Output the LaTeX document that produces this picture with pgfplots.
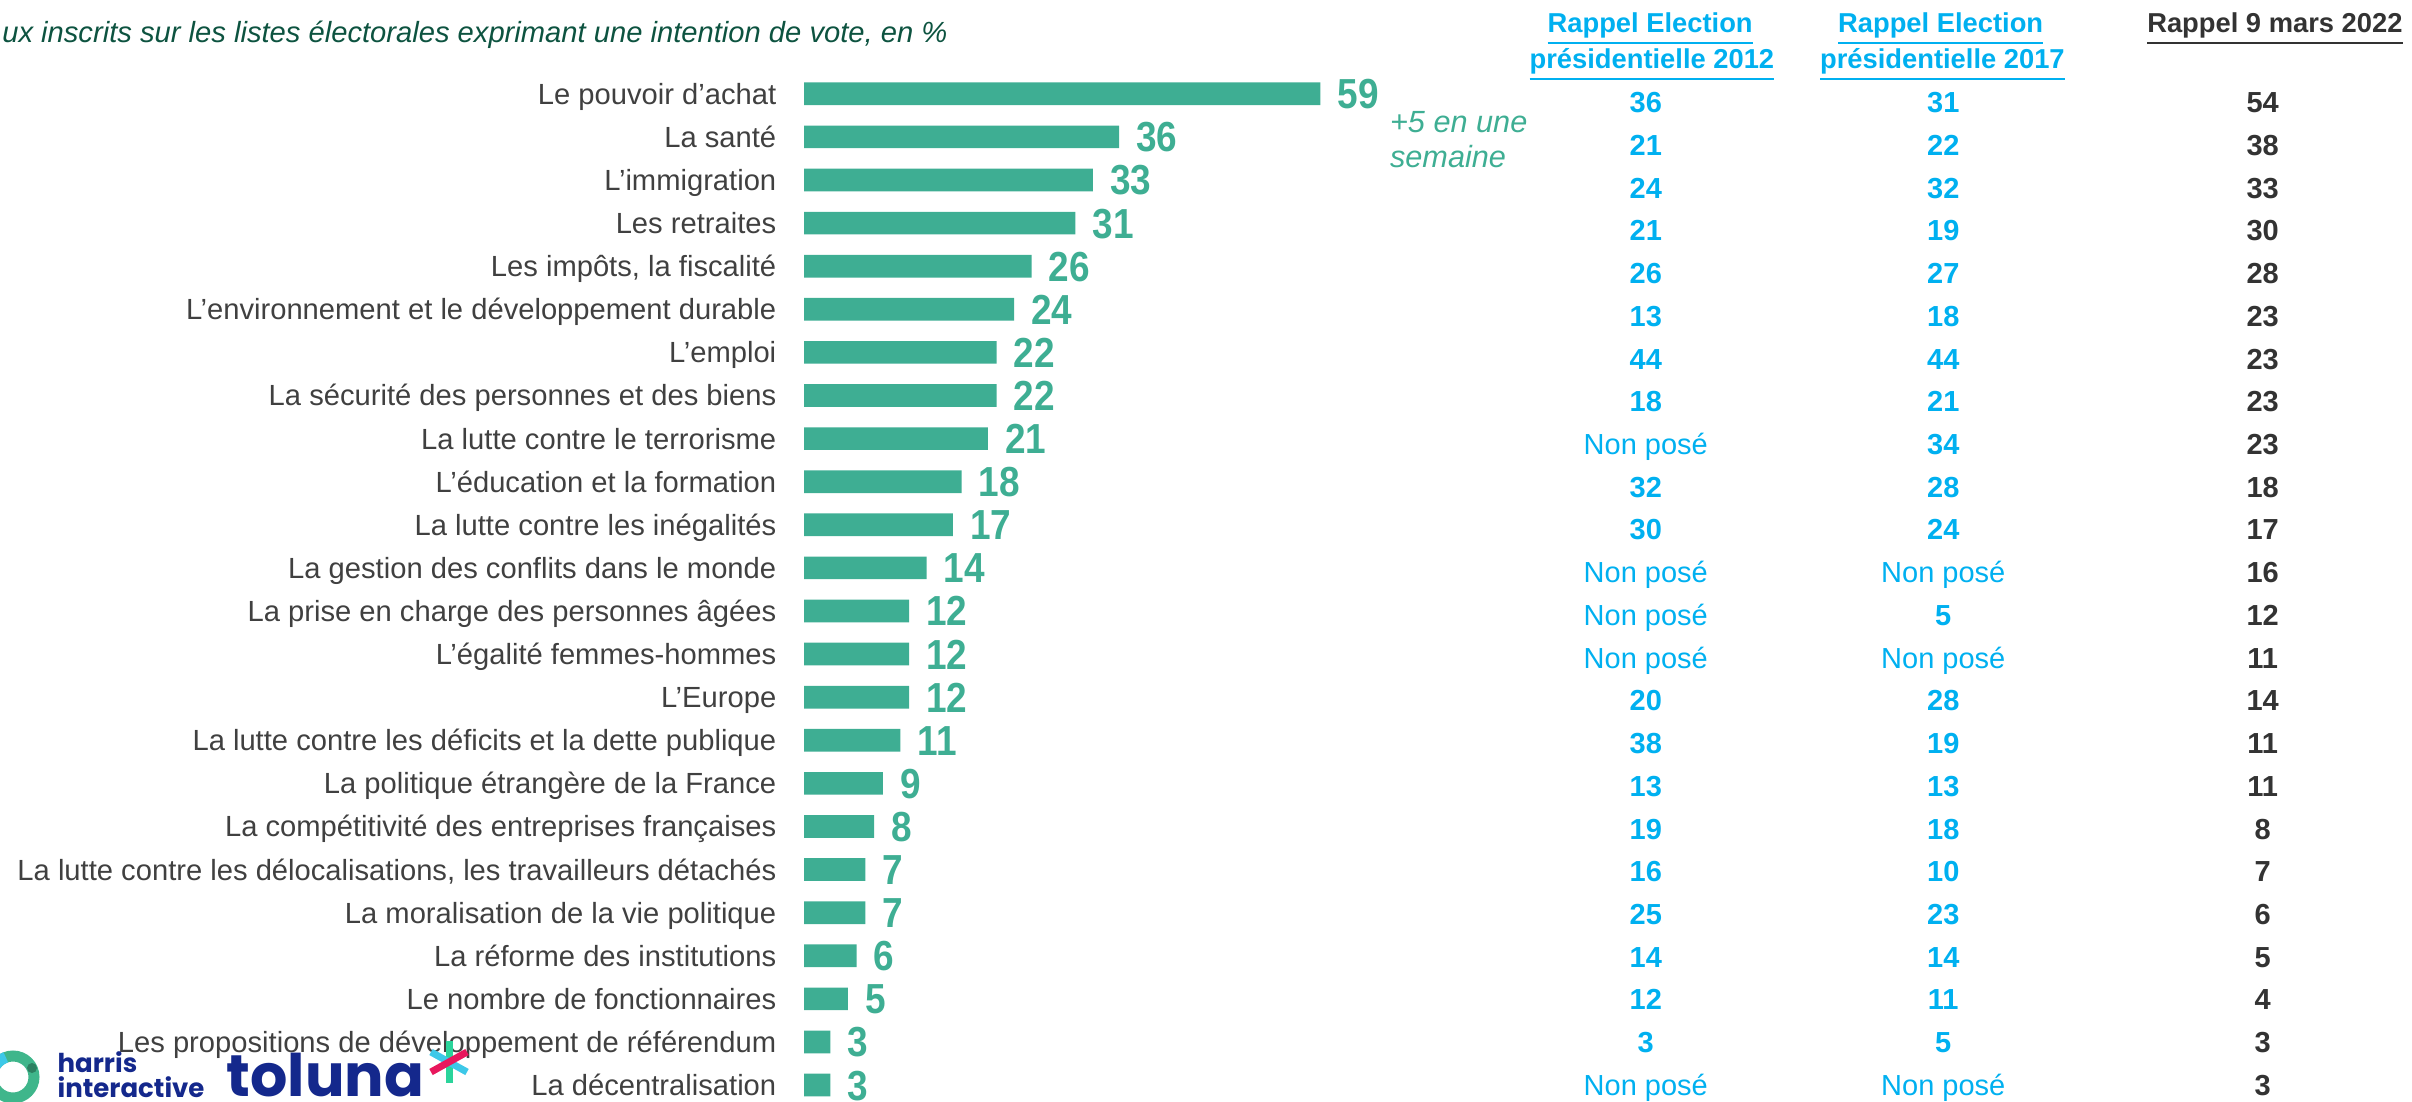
\documentclass[border=0pt]{standalone}
\usepackage{fontspec}
\setmainfont{Liberation Sans}
\newfontfamily\numfont[FakeStretch=0.88]{Liberation Sans}
\newfontfamily\logofont{Poppins}
\usepackage{pgfplots}
\usepackage{pgfplotstable}
\pgfplotsset{compat=1.18}
\definecolor{barc}{HTML}{3EAE93}
\definecolor{cyanc}{HTML}{00B0F0}
\definecolor{labc}{HTML}{404040}
\definecolor{darkc}{HTML}{333333}
\definecolor{titc}{HTML}{0D5340}
\definecolor{logob}{HTML}{14288C}
\definecolor{hgreen}{HTML}{3FB68B}
\definecolor{hcyan}{HTML}{3DC8E8}
\definecolor{tpink}{HTML}{E8175D}
\definecolor{tgreen}{HTML}{2BD49B}
\newcommand\NP{{\mdseries Non posé}}
\pgfplotstableread[col sep=semicolon]{
i;label;v;a;b;c
0;Le pouvoir d’achat;59;36;31;54
1;La santé;36;21;22;38
2;L’immigration;33;24;32;33
3;Les retraites;31;21;19;30
4;Les impôts, la fiscalité;26;26;27;28
5;L’environnement et le développement durable;24;13;18;23
6;L’emploi;22;44;44;23
7;La sécurité des personnes et des biens;22;18;21;23
8;La lutte contre le terrorisme;21;\NP;34;23
9;L’éducation et la formation;18;32;28;18
10;La lutte contre les inégalités;17;30;24;17
11;La gestion des conflits dans le monde;14;\NP;\NP;16
12;La prise en charge des personnes âgées;12;\NP;5;12
13;L’égalité femmes-hommes;12;\NP;\NP;11
14;L’Europe;12;20;28;14
15;La lutte contre les déficits et la dette publique;11;38;19;11
16;La politique étrangère de la France;9;13;13;11
17;La compétitivité des entreprises françaises;8;19;18;8
18;La lutte contre les délocalisations, les travailleurs détachés;7;16;10;7
19;La moralisation de la vie politique;7;25;23;6
20;La réforme des institutions;6;14;14;5
21;Le nombre de fonctionnaires;5;12;11;4
22;Les propositions de développement de référendum;3;3;5;3
23;La décentralisation;3;\NP;\NP;3
}\data
\begin{document}
\begin{tikzpicture}
\begin{axis}[
  scale only axis, width=723.6pt, height=330.3pt,
  xmin=-91.89, xmax=183.77, ymin=-2.176, ymax=23.37, y dir=reverse,
  axis lines=none, xtick=\empty, ytick=\empty, clip=false,
]
% bars
\addplot[xbar, bar width=6.8pt, fill=barc, draw=none,
  nodes near coords, point meta=explicit symbolic,
  nodes near coords style={anchor=west, inner sep=0pt, xshift=5pt, text=barc,
    text height=9pt, text depth=0pt,
    font=\numfont\bfseries\fontsize{12.6}{12.6}\selectfont}]
  table[x=v, y=i, meta=v] \data;
% category labels
\addplot[draw=none, mark=none, nodes near coords, point meta=explicit symbolic,
  nodes near coords style={anchor=east, inner sep=0pt, text=labc,
    text height=6.3pt, text depth=0pt, font=\fontsize{8.75}{8.75}\selectfont}]
  table[x expr=-3.1, y=i, meta=label] \data;
% 2012 column
\addplot[draw=none, mark=none, nodes near coords, point meta=explicit symbolic,
  nodes near coords style={anchor=center, inner sep=0pt, text=cyanc,
    text height=6.2pt, text depth=0pt, font=\bfseries\fontsize{8.7}{8.7}\selectfont}]
  table[x expr=96.2, y expr=\thisrow{i}*0.9913+0.2, meta=a] \data;
% 2017 column
\addplot[draw=none, mark=none, nodes near coords, point meta=explicit symbolic,
  nodes near coords style={anchor=center, inner sep=0pt, text=cyanc,
    text height=6.2pt, text depth=0pt, font=\bfseries\fontsize{8.7}{8.7}\selectfont}]
  table[x expr=130.2, y expr=\thisrow{i}*0.9913+0.2, meta=b] \data;
% 2022 column
\addplot[draw=none, mark=none, nodes near coords, point meta=explicit symbolic,
  nodes near coords style={anchor=center, inner sep=0pt, text=darkc,
    text height=6.2pt, text depth=0pt, font=\bfseries\fontsize{8.7}{8.7}\selectfont}]
  table[x expr=166.7, y expr=\thisrow{i}*0.9913+0.2, meta=c] \data;
% title
\node[anchor=base west, inner sep=0pt, text=titc, font=\itshape\fontsize{8.75}{9}\selectfont]
  at (axis cs:-91.7,-1.19) {ux inscrits sur les listes électorales exprimant une intention de vote, en \%};
% annotation
\node[anchor=base west, inner sep=0pt, text=barc, font=\itshape\fontsize{9.2}{9.2}\selectfont]
  at (axis cs:66.9,0.9) {+5 en une};
\node[anchor=base west, inner sep=0pt, text=barc, font=\itshape\fontsize{9.2}{9.2}\selectfont]
  at (axis cs:66.9,1.7) {semaine};
% headers
\tikzset{hdr/.style={anchor=base, inner sep=0pt, font=\bfseries\fontsize{8.2}{8.2}\selectfont}}
\node[hdr, text=cyanc] at (axis cs:96.7,-1.42) {\underline{Rappel Election}};
\node[hdr, text=cyanc] at (axis cs:96.9,-0.58) {\underline{présidentielle 2012}};
\node[hdr, text=cyanc] at (axis cs:129.9,-1.42) {\underline{Rappel Election}};
\node[hdr, text=cyanc] at (axis cs:130.1,-0.58) {\underline{présidentielle 2017}};
\node[hdr, text=darkc] at (axis cs:168.1,-1.42) {\underline{Rappel 9 mars 2022}};
\end{axis}
% logos
\begin{scope}[shift={(current axis.north west)}, x=0.3pt, y=-0.3pt]
  \draw[line width=3.3pt, hgreen] (13,1077) circle[radius=21];
  \draw[line width=3.3pt, hcyan] (13,1077) ++(180:21) arc[start angle=180, end angle=250, radius=21];
  \fill[hgreen!70!black] (32,1068) circle[radius=5];
  \node[anchor=base west, inner sep=0pt, text=logob, font=\logofont\bfseries\fontsize{7.8}{7.8}\selectfont] at (57,1072) {harris};
  \node[anchor=base west, inner sep=0pt, text=logob, font=\logofont\bfseries\fontsize{7.8}{7.8}\selectfont] at (57,1097) {interactive};
  \node[anchor=base west, inner sep=0pt, text=logob, font=\logofont\bfseries\fontsize{17.6}{17.6}\selectfont] at (226,1096) {toluna};
  \draw[line width=2.1pt, tgreen] (449,1041) -- (449,1083);
  \draw[line width=2.1pt, hcyan] (431,1052) -- (467,1072);
  \draw[line width=2.1pt, tpink] (431,1072) -- (467,1052);
\end{scope}
\pgfresetboundingbox
\path[use as bounding box] (current axis.south west) rectangle (current axis.north east);
\end{tikzpicture}
\end{document}
